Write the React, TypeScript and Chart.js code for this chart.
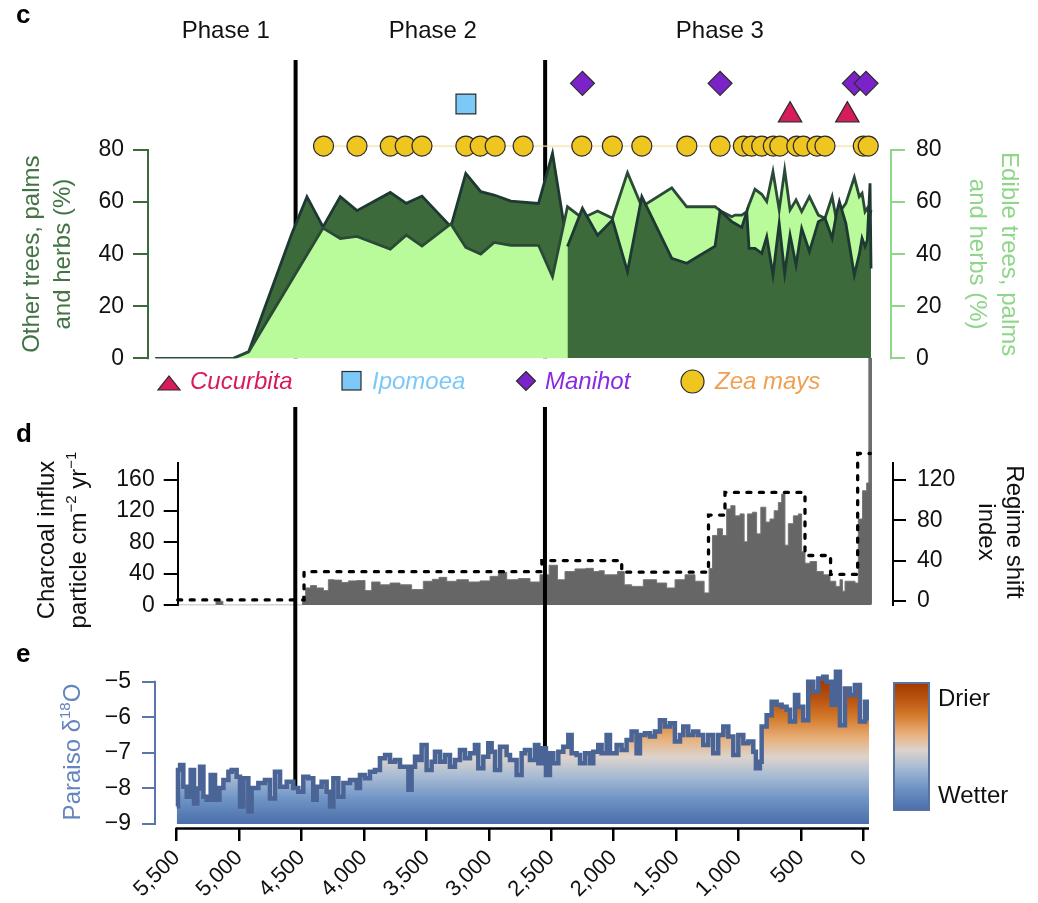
import React, { useEffect, useRef } from 'react';
import { Chart, registerables } from 'chart.js';

Chart.register(...registerables);

const FONT = '"Liberation Sans", Arial, Helvetica, sans-serif';
Chart.defaults.font.family = FONT;

// ---------------- panel c : pollen percentages ----------------
const POLLEN_YEARS_EARLY = [5674, 5046, 4926, 4579, 4459, 4330, 4192, 4058, 3791, 3663, 3537, 3306, 3186, 3066, 2959, 2825, 2603, 2491];
const OTHER_PCT_EARLY = [0, 0, 2.5, 48, 62, 50.5, 62.1, 56.7, 63.7, 59.5, 62.3, 50.5, 71, 64, 62.7, 60.4, 59.5, 78.7];
const EDIBLE_PCT_EARLY = [0, 0, 2.5, 30.2, 39.8, 50, 46, 46.8, 41.9, 47.3, 43.1, 51.6, 42.6, 40, 44.5, 43.4, 43.4, 31.3];

const POLLEN_YEARS_LATE = [2371, 2251, 2130, 2010, 1890, 1775, 1535, 1415, 1188, 1148, 1054, 1028, 974, 934, 916, 868, 814, 774, 724, 674, 630, 587, 539, 494, 432, 360, 307, 250, 213, 192, 140, 72, 32, 10, -14, -32, -54, -62];
const EDIBLE_PCT_LATE = [58.2, 53.8, 56.6, 53.8, 71.3, 58.2, 65.5, 58.2, 58.2, 56.7, 54.4, 55, 55, 56.3, 59, 64.9, 63, 60.2, 71.7, 57, 72.3, 57, 60.8, 56.3, 62.1, 55, 53.8, 62.1, 52.5, 56, 59.5, 69.5, 62.1, 63.4, 56.3, 57.6, 55, 57];
const OTHER_PCT_LATE = [42.9, 57.6, 47.3, 53.1, 33.3, 62.1, 38.4, 36.5, 43.1, 56.7, 52.5, 51.8, 50.3, 56.3, 42.2, 42.2, 40.3, 46.7, 32, 51.8, 32.6, 47.3, 35.8, 49.9, 41, 52.5, 53.8, 46.1, 56, 60.2, 51.8, 32, 40, 46.1, 42.9, 45.4, 67.2, 34.5];
const PCT_TICKS = [0, 20, 40, 60, 80];

// crop finds (marker rows on the % scale)
const ZEA_YEARS = [4326, 4058, 3791, 3671, 3537, 3185, 3070, 2950, 2726, 2256, 2011, 1775, 1414, 1148, 961, 894, 814, 721, 669, 533, 481, 371, 307, 0, -40];
const ZEA_ROW = 81.5;
const CUCURBITA_YEARS = [587, 128];
const CUCURBITA_ROW = 93.4;
const IPOMOEA_YEARS = [3185];
const IPOMOEA_ROW = 97.7;
const MANIHOT_YEARS = [2251, 1148, 72, -22];
const MANIHOT_ROW = 105.6;

const PHASE_BOUNDARIES = [4550, 2550];
const PHASE_LABELS = ['Phase 1', 'Phase 2', 'Phase 3'];
const PHASE_LABEL_YEARS = [5110, 3450, 1150];

// ---------------- panel d : charcoal + regime shift ----------------
const CHARCOAL_YEARS = [5490, 5210, 5160, 5100, 4500, 4486, 4448, 4408, 4352, 4298, 4272, 4208, 4150, 4098, 4018, 3965, 3911, 3831, 3751, 3671, 3565, 3484, 3420, 3377, 3297, 3217, 3110, 3030, 2950, 2897, 2816, 2710, 2630, 2550, 2483, 2416, 2363, 2256, 2189, 2136, 2096, 2055, 2003, 1935, 1895, 1815, 1709, 1602, 1548, 1468, 1388, 1308, 1242, 1228, 1188, 1148, 1108, 1081, 1041, 1014, 961, 948, 908, 868, 841, 801, 761, 734, 694, 667, 641, 614, 587, 533, 507, 481, 453, 401, 347, 293, 240, 200, 173, 160, 133, 80, 53, 26, -14, -40, -62];
const CHARCOAL_VALUES = [0, 0, 5, 0, 0, 11.6, 22, 25, 22, 18.6, 32.5, 32, 29, 31, 31.5, 18.6, 29.6, 26, 28.3, 26, 20, 30.5, 33, 35.5, 30.5, 32.5, 29.6, 31, 36.8, 42, 32.5, 34, 29.6, 38.8, 51, 32.5, 43, 46.3, 47, 43, 44, 38.8, 38.8, 43, 26, 24, 32.5, 28.3, 22, 32.5, 38.8, 30.6, 15.7, 47, 89, 97.6, 89, 122.8, 127, 114, 116.5, 81, 116.5, 118.6, 91, 125, 106, 110, 120.6, 131, 141.7, 76.6, 104, 114, 116.5, 68.3, 53.5, 55.7, 43, 38.8, 30.6, 24, 32.5, 17.9, 30.6, 30.6, 28.3, 110, 146, 156, 156];
const CHARCOAL_SPIKE_YEARS = [-55];
const CHARCOAL_SPIKE_VALUES = [315];
const CHARCOAL_TICKS = [0, 40, 80, 120, 160];

const REGIME_YEARS = [5492, 4480, 2575, 1935, 1240, 1108, 467, 262, 45, -56];
const REGIME_VALUES = [1, 29, 40, 28.5, 85, 107.5, 45, 26.3, 146, 146];
const REGIME_TICKS = [0, 40, 80, 120];

// ---------------- panel e : Paraiso d18O ----------------
const D18O_YEARS = [5500, 5490, 5473, 5447, 5420, 5388, 5361, 5335, 5313, 5286, 5260, 5228, 5193, 5158, 5126, 5086, 5060, 5020, 4993, 4966, 4926, 4900, 4846, 4793, 4753, 4713, 4672, 4619, 4566, 4526, 4486, 4446, 4406, 4379, 4339, 4299, 4272, 4245, 4205, 4165, 4112, 4058, 4032, 3992, 3952, 3912, 3872, 3831, 3791, 3751, 3711, 3671, 3644, 3618, 3591, 3564, 3538, 3498, 3458, 3431, 3391, 3351, 3311, 3271, 3231, 3191, 3151, 3111, 3084, 3044, 3004, 2977, 2950, 2910, 2857, 2830, 2777, 2737, 2710, 2670, 2630, 2603, 2576, 2542, 2510, 2483, 2443, 2403, 2363, 2336, 2296, 2269, 2229, 2189, 2163, 2123, 2096, 2056, 2029, 1976, 1936, 1896, 1856, 1816, 1789, 1749, 1709, 1669, 1629, 1589, 1549, 1509, 1468, 1442, 1402, 1362, 1322, 1282, 1242, 1202, 1162, 1121, 1081, 1041, 1001, 961, 921, 881, 860, 828, 814, 774, 734, 694, 654, 614, 587, 547, 521, 481, 441, 400, 360, 320, 294, 254, 219, 187, 147, 107, 67, 27, -14, -40, -46];
const D18O_VALUES = [-8.50, -7.48, -7.34, -7.95, -8.23, -7.48, -8.42, -8.00, -7.39, -8.23, -8.32, -7.62, -8.32, -7.99, -7.76, -7.53, -7.48, -7.67, -8.51, -7.71, -8.65, -7.99, -7.85, -7.76, -8.28, -7.53, -7.95, -7.81, -7.99, -8.09, -7.67, -7.71, -8.32, -7.95, -7.81, -8.09, -8.51, -7.71, -8.23, -7.85, -7.76, -7.99, -7.62, -7.71, -7.53, -7.48, -7.15, -7.06, -7.25, -7.20, -7.39, -7.39, -8.04, -7.39, -7.11, -7.20, -6.78, -7.48, -7.25, -6.97, -7.25, -7.06, -7.39, -7.20, -6.92, -7.15, -7.01, -6.78, -7.43, -7.11, -6.73, -6.97, -7.48, -6.83, -7.06, -7.20, -7.62, -7.01, -6.92, -7.20, -6.78, -7.29, -6.87, -7.62, -7.01, -7.29, -6.97, -6.83, -6.50, -7.01, -7.06, -7.29, -7.01, -7.29, -6.97, -6.78, -7.01, -6.50, -7.01, -6.78, -6.92, -6.64, -6.40, -7.01, -6.50, -6.45, -6.54, -6.40, -6.08, -6.26, -6.17, -6.68, -6.50, -6.26, -6.50, -6.40, -6.50, -6.78, -6.50, -7.01, -6.50, -6.26, -6.54, -7.06, -6.50, -6.73, -6.68, -6.97, -7.43, -7.25, -6.26, -5.94, -5.56, -5.65, -5.70, -5.79, -6.12, -5.37, -5.70, -6.08, -5.00, -5.28, -4.91, -4.86, -5.00, -5.65, -4.72, -6.22, -5.19, -5.37, -5.09, -6.12, -5.56, -6.03, -6.03];
const D18O_TICKS = [-9, -8, -7, -6, -5];
const YEAR_TICKS = [5500, 5000, 4500, 4000, 3500, 3000, 2500, 2000, 1500, 1000, 500, 0];

// ---------------- styles ----------------
const GREEN_DARK = '#3d6a3a';
const GREEN_LIGHT = '#b9fb9b';
const GREEN_AXIS_LIGHT = '#8fd68a';
const BLUE_AXIS = '#5876ad';
const DRY_WET_STOPS: [number, string][] = [
  [0, '#a33a00'], [0.12, '#b9520f'], [0.26, '#d47d2d'], [0.4, '#e8b07c'],
  [0.53, '#dcd3cc'], [0.66, '#a9bcd4'], [0.82, '#6f95c6'], [1, '#4a6eaa'],
];

type Part = { t: string; sup?: boolean };

function gradient(ctx: CanvasRenderingContext2D, y0: number, y1: number) {
  const g = ctx.createLinearGradient(0, y0, 0, y1);
  DRY_WET_STOPS.forEach(([o, c]) => g.addColorStop(o, c));
  return g;
}

function drawRich(ctx: CanvasRenderingContext2D, parts: Part[], size: number, color: string) {
  ctx.fillStyle = color;
  ctx.textBaseline = 'alphabetic';
  ctx.textAlign = 'left';
  const supSize = Math.round(size * 0.62);
  let total = 0;
  const widths = parts.map((p) => {
    ctx.font = `${p.sup ? supSize : size}px ${FONT}`;
    const w = ctx.measureText(p.t).width;
    total += w;
    return w;
  });
  let x = -total / 2;
  const base = size * 0.36;
  parts.forEach((p, i) => {
    ctx.font = `${p.sup ? supSize : size}px ${FONT}`;
    ctx.fillText(p.t, x, p.sup ? base - size * 0.42 : base);
    x += widths[i];
  });
}

function rotatedTitle(ctx: CanvasRenderingContext2D, lines: Part[][], xs: number[], cy: number, angle: number, size: number, color: string) {
  lines.forEach((parts, i) => {
    ctx.save();
    ctx.translate(xs[i], cy);
    ctx.rotate(angle);
    drawRich(ctx, parts, size, color);
    ctx.restore();
  });
}

function fixedTicks(values: number[]) {
  return (scale: any) => {
    scale.ticks = values.map((v) => ({ value: v }));
  };
}

function pts(xs: number[], ys: number[]) {
  return xs.map((x, i) => ({ x, y: ys[i] }));
}

function rowPts(xs: number[], row: number) {
  return xs.map((x) => ({ x, y: row }));
}

const tickFont = { family: FONT, size: 23 };

function phaseLines(chart: any, yTop: number, yBottom: number) {
  const ctx = chart.ctx;
  const xs = chart.scales.x;
  ctx.save();
  ctx.strokeStyle = '#000';
  ctx.lineWidth = 4;
  ctx.lineCap = 'butt';
  PHASE_BOUNDARIES.forEach((yr) => {
    const px = xs.getPixelForValue(yr);
    ctx.beginPath();
    ctx.moveTo(px, yTop);
    ctx.lineTo(px, yBottom);
    ctx.stroke();
  });
  ctx.restore();
}

function axisLine(ctx: CanvasRenderingContext2D, x0: number, y0: number, x1: number, y1: number, color: string, width: number) {
  ctx.save();
  ctx.strokeStyle = color;
  ctx.lineWidth = width;
  ctx.beginPath();
  ctx.moveTo(x0, y0);
  ctx.lineTo(x1, y1);
  ctx.stroke();
  ctx.restore();
}

function panelLetter(ctx: CanvasRenderingContext2D, t: string, y: number) {
  ctx.save();
  ctx.fillStyle = '#000';
  ctx.font = `bold 26px ${FONT}`;
  ctx.textAlign = 'left';
  ctx.textBaseline = 'alphabetic';
  ctx.fillText(t, 16, y);
  ctx.restore();
}

const markerCommon = {
  showLine: false,
  pointBorderColor: '#2b2b2b',
  pointBorderWidth: 1.2,
  clip: false as any,
  fill: false,
};

// ---------------- configs ----------------
function configC(): any {
  const otherEarly = pts(POLLEN_YEARS_EARLY, OTHER_PCT_EARLY).concat([{ x: POLLEN_YEARS_LATE[0], y: OTHER_PCT_LATE[0] }]);
  const edible = pts(POLLEN_YEARS_EARLY.concat(POLLEN_YEARS_LATE), EDIBLE_PCT_EARLY.concat(EDIBLE_PCT_LATE));
  const otherLate = pts(POLLEN_YEARS_LATE, OTHER_PCT_LATE);

  const decor = {
    id: 'decorC',
    beforeDatasetsDraw(chart: any) {
      const ys = chart.scales.y;
      const area = chart.chartArea;
      const yTop = ys.getPixelForValue(PCT_TICKS[PCT_TICKS.length - 1]) - 1;
      const yBot = ys.getPixelForValue(PCT_TICKS[0]) + 1;
      axisLine(chart.ctx, area.left, yTop, area.left, yBot, GREEN_DARK, 2);
      axisLine(chart.ctx, area.right, yTop, area.right, yBot, GREEN_AXIS_LIGHT, 2);
      phaseLines(chart, 60, ys.getPixelForValue(0));
    },
    afterDraw(chart: any) {
      const ctx = chart.ctx as CanvasRenderingContext2D;
      const xs = chart.scales.x;
      const ys = chart.scales.y;
      panelLetter(ctx, 'c', 23);
      ctx.save();
      ctx.font = `24px ${FONT}`;
      ctx.fillStyle = '#111';
      ctx.textAlign = 'center';
      ctx.textBaseline = 'alphabetic';
      PHASE_LABELS.forEach((t, i) => ctx.fillText(t, xs.getPixelForValue(PHASE_LABEL_YEARS[i]), 38));
      ctx.restore();
      const cy = (ys.getPixelForValue(0) + ys.getPixelForValue(80)) / 2;
      rotatedTitle(ctx, [[{ t: 'Other trees, palms' }], [{ t: 'and herbs (%)' }]], [30, 61], cy, -Math.PI / 2, 24, '#437444');
      rotatedTitle(ctx, [[{ t: 'Edible trees, palms' }], [{ t: 'and herbs (%)' }]], [1011, 979], cy, Math.PI / 2, 24, GREEN_AXIS_LIGHT);

      // legend row
      ctx.save();
      ctx.strokeStyle = '#2b2b2b';
      ctx.lineWidth = 1.2;
      ctx.font = `italic 24px ${FONT}`;
      ctx.textBaseline = 'alphabetic';
      ctx.textAlign = 'left';
      // Cucurbita
      ctx.fillStyle = '#d81b5a';
      ctx.beginPath();
      ctx.moveTo(158, 390); ctx.lineTo(180, 390); ctx.lineTo(169, 376); ctx.closePath();
      ctx.fill(); ctx.stroke();
      ctx.fillText('Cucurbita', 190, 389);
      // Ipomoea
      ctx.fillStyle = '#7cc8f7';
      ctx.fillRect(342, 371.5, 19, 18.5);
      ctx.strokeRect(342, 371.5, 19, 18.5);
      ctx.fillText('Ipomoea', 372, 389);
      // Manihot
      ctx.fillStyle = '#7b22c9';
      ctx.beginPath();
      ctx.moveTo(526, 371.5); ctx.lineTo(535.5, 381); ctx.lineTo(526, 390.5); ctx.lineTo(516.5, 381); ctx.closePath();
      ctx.fill(); ctx.stroke();
      ctx.fillStyle = '#8a2be2';
      ctx.fillText('Manihot', 545, 389);
      // Zea mays
      ctx.fillStyle = '#efc520';
      ctx.beginPath();
      ctx.arc(692.5, 381.5, 11.5, 0, Math.PI * 2);
      ctx.fill(); ctx.stroke();
      ctx.fillStyle = '#f0a050';
      ctx.fillText('Zea mays', 715, 389);
      ctx.restore();
    },
  };

  return {
    type: 'line',
    data: {
      datasets: [
        { ...markerCommon, label: 'Manihot', data: rowPts(MANIHOT_YEARS, MANIHOT_ROW), pointStyle: 'rectRot', pointRadius: 12, pointBackgroundColor: '#7b22c9', order: 0 },
        { ...markerCommon, label: 'Ipomoea', data: rowPts(IPOMOEA_YEARS, IPOMOEA_ROW), pointStyle: 'rect', pointRadius: 14, pointBackgroundColor: '#7cc8f7', order: 1 },
        { ...markerCommon, label: 'Cucurbita', data: rowPts(CUCURBITA_YEARS, CUCURBITA_ROW), pointStyle: 'triangle', pointRadius: 13.5, pointBackgroundColor: '#d81b5a', order: 2 },
        { ...markerCommon, label: 'Zea mays', data: rowPts(ZEA_YEARS, ZEA_ROW), showLine: true, borderColor: '#f3e2a2', borderWidth: 1.2, pointStyle: 'circle', pointRadius: 10, pointBackgroundColor: '#efc520', order: 3 },
        { label: 'Other trees (late)', data: otherLate, borderColor: '#1e3833', borderWidth: 2.8, backgroundColor: GREEN_DARK, fill: 'origin', pointRadius: 0, order: 5 },
        { label: 'Edible trees', data: edible, borderColor: '#2a4a37', borderWidth: 2.8, backgroundColor: GREEN_LIGHT, fill: 'origin', pointRadius: 0, order: 6 },
        { label: 'Other trees (early)', data: otherEarly, borderColor: '#1e3833', borderWidth: 2.8, backgroundColor: GREEN_DARK, fill: 'origin', pointRadius: 0, order: 7 },
      ],
    },
    options: {
      responsive: false,
      maintainAspectRatio: false,
      devicePixelRatio: 1,
      animation: false,
      events: [],
      layout: { padding: { top: 68, bottom: 41.7, left: 0, right: 0 } },
      plugins: { legend: { display: false }, tooltip: { enabled: false } },
      scales: {
        x: { type: 'linear', display: false, reverse: true, min: -222, max: 5733, offset: false },
        y: {
          type: 'linear', position: 'left', min: 0, max: 111.5,
          afterFit: (s: any) => { s.width = 148; },
          afterBuildTicks: fixedTicks(PCT_TICKS),
          border: { display: false },
          grid: { drawOnChartArea: false, color: GREEN_DARK, tickColor: GREEN_DARK, lineWidth: 2, tickWidth: 2, tickLength: 15 },
          ticks: { color: '#111', font: tickFont, padding: 9 },
        },
        y2: {
          type: 'linear', axis: 'y', position: 'right', min: 0, max: 111.5,
          afterFit: (s: any) => { s.width = 147; },
          afterBuildTicks: fixedTicks(PCT_TICKS),
          border: { display: false },
          grid: { drawOnChartArea: false, color: GREEN_AXIS_LIGHT, tickColor: GREEN_AXIS_LIGHT, lineWidth: 2, tickWidth: 2, tickLength: 14 },
          ticks: { color: '#111', font: tickFont, padding: 11 },
        },
      },
    },
    plugins: [decor],
  };
}

function configD(): any {
  const decor = {
    id: 'decorD',
    afterDatasetsDraw(chart: any) {
      phaseLines(chart, 67, chart.height);
    },
    afterDraw(chart: any) {
      const ctx = chart.ctx as CanvasRenderingContext2D;
      panelLetter(ctx, 'd', 102);
      rotatedTitle(ctx, [
        [{ t: 'Charcoal influx' }],
        [{ t: 'particle cm' }, { t: '\u22122', sup: true }, { t: ' yr' }, { t: '\u22121', sup: true }],
      ], [45, 77], 200, -Math.PI / 2, 24, '#111');
      rotatedTitle(ctx, [[{ t: 'Regime shift' }], [{ t: 'index' }]], [1016, 988], 192, Math.PI / 2, 24, '#111');
    },
  };

  return {
    type: 'line',
    data: {
      datasets: [
        { label: 'Regime shift index', data: pts(REGIME_YEARS, REGIME_VALUES), yAxisID: 'y2', stepped: true, borderColor: '#000', borderWidth: 3.3, borderDash: [4, 8.5], borderCapStyle: 'round', fill: false, pointRadius: 0, order: 0, clip: false },
        { label: 'Charcoal influx', data: pts(CHARCOAL_YEARS, CHARCOAL_VALUES), yAxisID: 'y', stepped: 'middle', borderColor: '#777', borderWidth: 1, backgroundColor: '#666', fill: 'origin', pointRadius: 0, order: 1 },
        { type: 'bar', label: 'Charcoal influx (top)', data: pts(CHARCOAL_SPIKE_YEARS, CHARCOAL_SPIKE_VALUES), yAxisID: 'y', backgroundColor: '#6e6e6e', barThickness: 3, clip: false, order: 2 },
      ],
    },
    options: {
      responsive: false,
      maintainAspectRatio: false,
      devicePixelRatio: 1,
      animation: false,
      events: [],
      layout: { padding: { top: 123, bottom: 23, left: 0, right: 0 } },
      plugins: { legend: { display: false }, tooltip: { enabled: false } },
      scales: {
        x: { type: 'linear', display: false, reverse: true, min: -238, max: 5492, offset: false },
        y: {
          type: 'linear', position: 'left', min: 0, max: 181.4,
          afterFit: (s: any) => { s.width = 177.7; },
          afterBuildTicks: fixedTicks(CHARCOAL_TICKS),
          border: { display: true, color: '#000', width: 2 },
          grid: { drawOnChartArea: false, color: '#000', tickColor: '#000', lineWidth: 2, tickWidth: 2, tickLength: 14 },
          ticks: { color: '#111', font: tickFont, padding: 9 },
        },
        y2: {
          type: 'linear', axis: 'y', position: 'right', min: -4.2, max: 136.6,
          afterFit: (s: any) => { s.width = 145; },
          afterBuildTicks: fixedTicks(REGIME_TICKS),
          border: { display: true, color: '#000', width: 2 },
          grid: { drawOnChartArea: false, color: '#000', tickColor: '#000', lineWidth: 2, tickWidth: 2, tickLength: 13 },
          ticks: { color: '#111', font: tickFont, padding: 11 },
        },
      },
    },
    plugins: [decor],
  };
}

function configE(): any {
  const decor = {
    id: 'decorE',
    beforeDatasetsDraw(chart: any) {
      phaseLines(chart, 0, chart.scales.y.getPixelForValue(-9));
    },
    afterDraw(chart: any) {
      const ctx = chart.ctx as CanvasRenderingContext2D;
      const xs = chart.scales.x;
      const ys = chart.scales.y;
      const area = chart.chartArea;
      // x axis line (from 5,500 to the plot end)
      axisLine(ctx, xs.getPixelForValue(YEAR_TICKS[0]) - 1.2, area.bottom + 0.5, area.right, area.bottom + 0.5, '#000', 2.5);
      // y axis line (-9 .. -5)
      axisLine(ctx, area.left, ys.getPixelForValue(D18O_TICKS[D18O_TICKS.length - 1]) - 1, area.left, ys.getPixelForValue(D18O_TICKS[0]) + 1, BLUE_AXIS, 2);
      // colour legend
      ctx.save();
      const lx = 894, ly = 53, lw = 35, lh = 127;
      ctx.fillStyle = gradient(ctx, ly, ly + lh);
      ctx.fillRect(lx, ly, lw, lh);
      ctx.strokeStyle = '#5a72a0';
      ctx.lineWidth = 2;
      ctx.strokeRect(lx, ly, lw, lh);
      ctx.fillStyle = '#111';
      ctx.font = `24px ${FONT}`;
      ctx.textAlign = 'left';
      ctx.textBaseline = 'alphabetic';
      ctx.fillText('Drier', 938, 76);
      ctx.fillText('Wetter', 938, 173);
      ctx.restore();
      panelLetter(ctx, 'e', 32);
      rotatedTitle(ctx, [[{ t: 'Paraiso \u03b4' }, { t: '18', sup: true }, { t: 'O' }]], [71], 122, -Math.PI / 2, 24, '#6585bf');
    },
  };

  return {
    type: 'line',
    data: {
      datasets: [
        {
          label: 'Paraiso d18O',
          data: pts(D18O_YEARS, D18O_VALUES),
          stepped: true,
          borderColor: '#4a6496',
          borderWidth: 4.5,
          pointRadius: 0,
          fill: { value: -9 },
          backgroundColor: (c: any) => {
            const ch = c.chart;
            const ys = ch.scales && ch.scales.y;
            if (!ch.chartArea || !ys) return '#8aa3c8';
            return gradient(ch.ctx, ys.getPixelForValue(-5), ys.getPixelForValue(-9));
          },
        },
      ],
    },
    options: {
      responsive: false,
      maintainAspectRatio: false,
      devicePixelRatio: 1,
      animation: false,
      events: [],
      layout: { padding: { top: 37.5, bottom: 0, left: 0, right: 169 } },
      plugins: { legend: { display: false }, tooltip: { enabled: false } },
      scales: {
        x: {
          type: 'linear', position: 'bottom', reverse: true, min: -46, max: 5674, offset: false,
          afterFit: (s: any) => { s.height = 75; },
          afterBuildTicks: fixedTicks(YEAR_TICKS),
          border: { display: false },
          grid: { drawOnChartArea: false, color: '#000', tickColor: '#000', lineWidth: 2.5, tickWidth: 2.5, tickLength: 13 },
          ticks: {
            color: '#111', font: { family: FONT, size: 22 }, padding: 4, autoSkip: false,
            minRotation: 45, maxRotation: 45,
            callback: (v: any) => Number(v).toLocaleString('en-US'),
          },
        },
        y: {
          type: 'linear', position: 'left', min: -9.112, max: -4.6,
          afterFit: (s: any) => { s.width = 155; },
          afterBuildTicks: fixedTicks(D18O_TICKS),
          border: { display: false },
          grid: { drawOnChartArea: false, color: BLUE_AXIS, tickColor: BLUE_AXIS, lineWidth: 2, tickWidth: 2, tickLength: 13 },
          ticks: {
            color: '#111', font: tickFont, padding: 11,
            callback: (v: any) => (Number(v) < 0 ? '\u2212' + Math.abs(Number(v)) : String(v)),
          },
        },
      },
    },
    plugins: [decor],
  };
}

export default function App() {
  const cRef = useRef<HTMLCanvasElement>(null);
  const dRef = useRef<HTMLCanvasElement>(null);
  const eRef = useRef<HTMLCanvasElement>(null);

  useEffect(() => {
    const charts = [
      new Chart(cRef.current as HTMLCanvasElement, configC()),
      new Chart(dRef.current as HTMLCanvasElement, configD()),
      new Chart(eRef.current as HTMLCanvasElement, configE()),
    ];
    return () => charts.forEach((c) => c.destroy());
  }, []);

  return (
    <div style={{ position: 'absolute', left: 0, top: 0, width: 1038, height: 903, background: '#fff', overflow: 'hidden' }}>
      <canvas ref={cRef} width={1038} height={400} style={{ position: 'absolute', left: 0, top: 0, width: 1038, height: 400 }} />
      <canvas ref={dRef} width={1038} height={290} style={{ position: 'absolute', left: 0, top: 340, width: 1038, height: 290 }} />
      <canvas ref={eRef} width={1038} height={273} style={{ position: 'absolute', left: 0, top: 630, width: 1038, height: 273 }} />
    </div>
  );
}
